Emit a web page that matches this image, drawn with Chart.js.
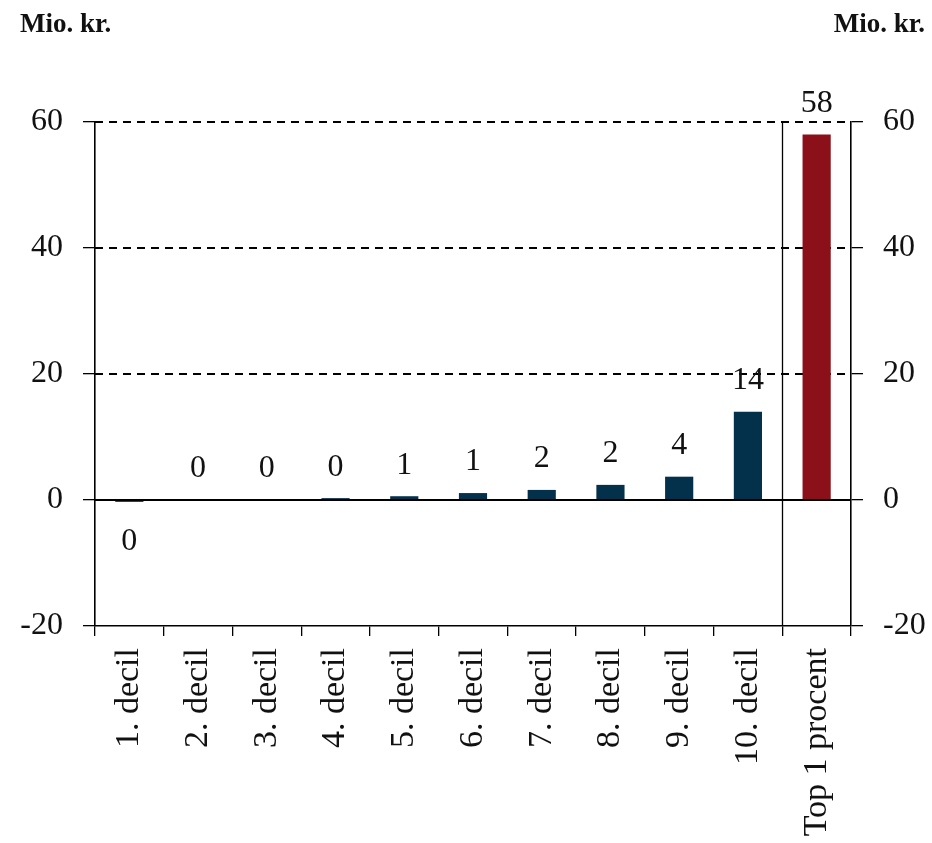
<!DOCTYPE html>
<html>
<head>
<meta charset="utf-8">
<script src="https://cdn.jsdelivr.net/npm/chart.js@4"></script>
<style>
html,body{margin:0;padding:0;background:#fff;}
#wrap{position:relative;width:932px;height:843px;}
</style>
</head>
<body>
<div id="wrap"><canvas id="c" width="932" height="843"></canvas></div>
<script>
const categories = ["1. decil","2. decil","3. decil","4. decil","5. decil","6. decil","7. decil","8. decil","9. decil","10. decil","Top 1 procent"];
const values = [-0.3, 0.05, 0.05, 0.3, 0.6, 1.1, 1.6, 2.4, 3.7, 14.0, 58.0];
const barColors = ["#03304a","#03304a","#03304a","#03304a","#03304a","#03304a","#03304a","#03304a","#03304a","#03304a","#8b1019"];
const yTicks = [-20, 0, 20, 40, 60];
const dashedLines = [20, 40, 60];
const unitLabel = "Mio. kr.";

const FONT = "'Liberation Serif', 'Times New Roman', serif";

const overlay = {
  id: 'overlay',
  beforeDatasetsDraw(chart) {
    const ctx = chart.ctx, y = chart.scales.y, a = chart.chartArea;
    ctx.save();
    ctx.strokeStyle = '#000';
    ctx.lineWidth = 2;
    ctx.setLineDash([8, 6]);
    dashedLines.forEach(v => {
      const py = Math.round(y.getPixelForValue(v));
      ctx.beginPath(); ctx.moveTo(a.left, py); ctx.lineTo(a.right, py); ctx.stroke();
    });
    ctx.restore();
  },
  afterDatasetsDraw(chart) {
    const ctx = chart.ctx, y = chart.scales.y, x = chart.scales.x, a = chart.chartArea;
    ctx.save();
    // zero line
    ctx.strokeStyle = '#000';
    ctx.lineWidth = 2.2;
    const py0 = y.getPixelForValue(0);
    ctx.beginPath(); ctx.moveTo(a.left, py0); ctx.lineTo(a.right, py0); ctx.stroke();
    // separator between 10. decil and Top 1 procent
    const sx = Math.round((x.getPixelForValue(9) + x.getPixelForValue(10)) / 2) + 0.5;
    ctx.lineWidth = 1.3;
    ctx.beginPath(); ctx.moveTo(sx, a.top); ctx.lineTo(sx, a.bottom); ctx.stroke();
    // data labels
    ctx.fillStyle = '#111';
    ctx.font = "32px " + FONT;
    ctx.textAlign = 'center';
    ctx.textBaseline = 'middle';
    const meta = chart.getDatasetMeta(0);
    meta.data.forEach((bar, i) => {
      const v = values[i];
      const txt = String(Math.abs(Math.round(v)));
      if (v >= 0) {
        ctx.fillText(txt, bar.x, y.getPixelForValue(v) - 31);
      } else {
        ctx.fillText(txt, bar.x, y.getPixelForValue(v) + 40);
      }
    });
    // unit labels
    ctx.font = "bold 27px " + FONT;
    ctx.textBaseline = 'middle';
    ctx.textAlign = 'left';
    ctx.fillText(unitLabel, 20, 25);
    ctx.textAlign = 'right';
    ctx.fillText(unitLabel, 925, 25);
    ctx.restore();
  }
};

const yCommon = {
  type: 'linear',
  min: -20, max: 60,
  afterBuildTicks: s => { s.ticks = yTicks.map(v => ({value: v})); },
  grid: { drawOnChartArea: false, drawTicks: true, tickLength: 12, color: '#000', lineWidth: 1.3 },
  border: { display: true, color: '#000', width: 1.6 },
  ticks: { color: '#111', font: { family: FONT, size: 32 }, padding: 20 }
};

new Chart(document.getElementById('c'), {
  type: 'bar',
  data: {
    labels: categories,
    datasets: [{
      data: values,
      backgroundColor: barColors,
      borderWidth: 0,
      barPercentage: 0.41,
      categoryPercentage: 1.0
    }]
  },
  options: {
    responsive: false,
    animation: false,
    layout: { padding: { top: 122, left: 0, right: 0, bottom: 0 } },
    plugins: { legend: { display: false }, tooltip: { enabled: false } },
    scales: {
      x: {
        offset: true,
        grid: { offset: true, drawOnChartArea: false, drawTicks: true, tickLength: 10, color: '#000', lineWidth: 1.3 },
        border: { display: true, color: '#000', width: 1.6 },
        ticks: { color: '#111', font: { family: FONT, size: 34 }, maxRotation: 90, minRotation: 90, padding: 12, autoSkip: false },
        afterFit: s => { s.height = 843 - 626; }
      },
      y: Object.assign({}, yCommon, { position: 'left', afterFit: s => { s.width = 95; } }),
      y2: Object.assign({}, yCommon, { position: 'right', afterFit: s => { s.width = 932 - 851; } })
    }
  },
  plugins: [overlay]
});
</script>
</body>
</html>
